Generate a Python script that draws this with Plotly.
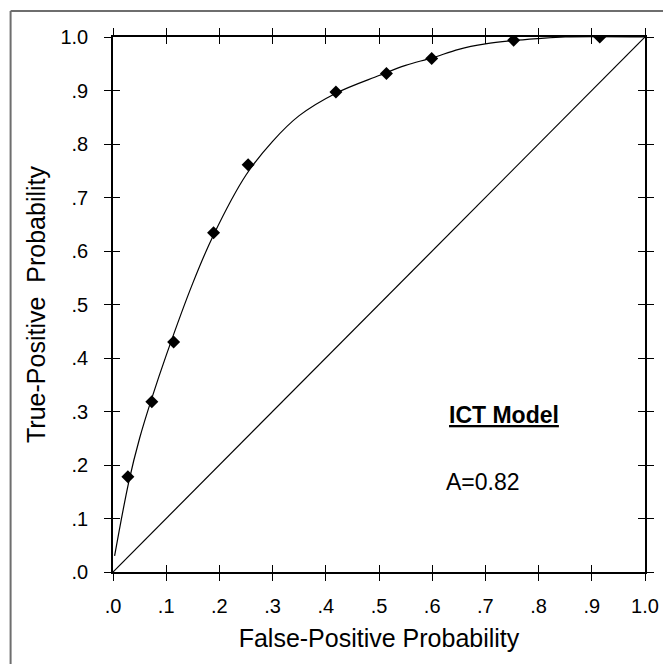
import plotly.graph_objects as go

# observed operating points (false-positive, true-positive)
fp_rate = [0.028, 0.073, 0.114, 0.189, 0.254, 0.419, 0.514, 0.599, 0.753, 0.915]
tp_rate = [0.178, 0.318, 0.430, 0.634, 0.761, 0.897, 0.932, 0.960, 0.994, 1.000]

# fitted ROC curve
curve_fp = [0.003, 0.030, 0.050, 0.073, 0.100, 0.150, 0.189, 0.250, 0.300, 0.350,
            0.419, 0.500, 0.550, 0.600, 0.650, 0.700, 0.750, 0.800, 0.850, 1.000]
curve_tp = [0.030, 0.170, 0.250, 0.325, 0.405, 0.540, 0.630, 0.742, 0.805, 0.853,
            0.895, 0.928, 0.947, 0.961, 0.977, 0.987, 0.993, 0.997, 1.000, 1.000]

chance = [0.0, 1.0]

tick_vals = [0.0, 0.1, 0.2, 0.3, 0.4, 0.5, 0.6, 0.7, 0.8, 0.9, 1.0]
tick_text = [".0", ".1", ".2", ".3", ".4", ".5", ".6", ".7", ".8", ".9", "1.0"]

font = "Liberation Sans, Arial, sans-serif"

fig = go.Figure()
fig.add_trace(go.Scatter(x=chance, y=chance, mode="lines",
                         line=dict(color="black", width=1.2), hoverinfo="skip"))
fig.add_trace(go.Scatter(x=curve_fp, y=curve_tp, mode="lines",
                         line=dict(color="black", width=1.2, shape="spline", smoothing=1.0),
                         hoverinfo="skip"))
fig.add_trace(go.Scatter(x=fp_rate, y=tp_rate, mode="markers",
                         marker=dict(symbol="diamond", size=10, color="black")))
# invisible trace so the overlay axes (inner half of the crossing ticks) get drawn
fig.add_trace(go.Scatter(x=[0.5], y=[0.5], xaxis="x2", yaxis="y2", mode="markers",
                         marker=dict(opacity=0), hoverinfo="skip"))

axis_common = dict(range=[0, 1], tickvals=tick_vals, ticktext=tick_text,
                   showgrid=False, zeroline=False, showline=True, linecolor="black",
                   linewidth=1.5, tickcolor="black", tickwidth=1.2, ticklen=7,
                   mirror="allticks")

# the page body adds an 8px margin, so the figure is 8px smaller than the window
fig.update_layout(
    width=663, height=656,
    margin=dict(l=105, r=23, t=29, b=92),
    paper_bgcolor="white", plot_bgcolor="white",
    showlegend=False,
    font=dict(family=font, color="black", size=20),
    xaxis=dict(**axis_common, ticks="outside", ticklabelstandoff=8,
               title=dict(text="False-Positive Probability", font=dict(size=25), standoff=14)),
    yaxis=dict(**axis_common, ticks="outside", ticklabelstandoff=12,
               title=dict(text="True-Positive\u00a0 Probability", font=dict(size=25), standoff=8)),
    xaxis2=dict(**axis_common, ticks="inside", overlaying="x", anchor="y2",
                showticklabels=False),
    yaxis2=dict(**axis_common, ticks="inside", overlaying="y", anchor="x2",
                showticklabels=False),
)

fig.add_annotation(x=0.735, y=0.293, xref="x", yref="y", showarrow=False,
                   text="<b><u>ICT Model</u></b>", font=dict(size=23))
fig.add_annotation(x=0.622, y=0.168, xref="x", yref="y", showarrow=False,
                   xanchor="left", text="A=0.82", font=dict(size=23))

# gray frame around the figure (only left and top edges fall inside the picture)
fig.add_shape(type="line", xref="paper", yref="paper", x0=-0.1925, x1=-0.1925,
              y0=-0.3, y1=1.0486, line=dict(color="#6e6e6e", width=2))
fig.add_shape(type="line", xref="paper", yref="paper", x0=-0.1925, x1=1.2,
              y0=1.0486, y1=1.0486, line=dict(color="#6e6e6e", width=2))

fig.write_html("out.html")
